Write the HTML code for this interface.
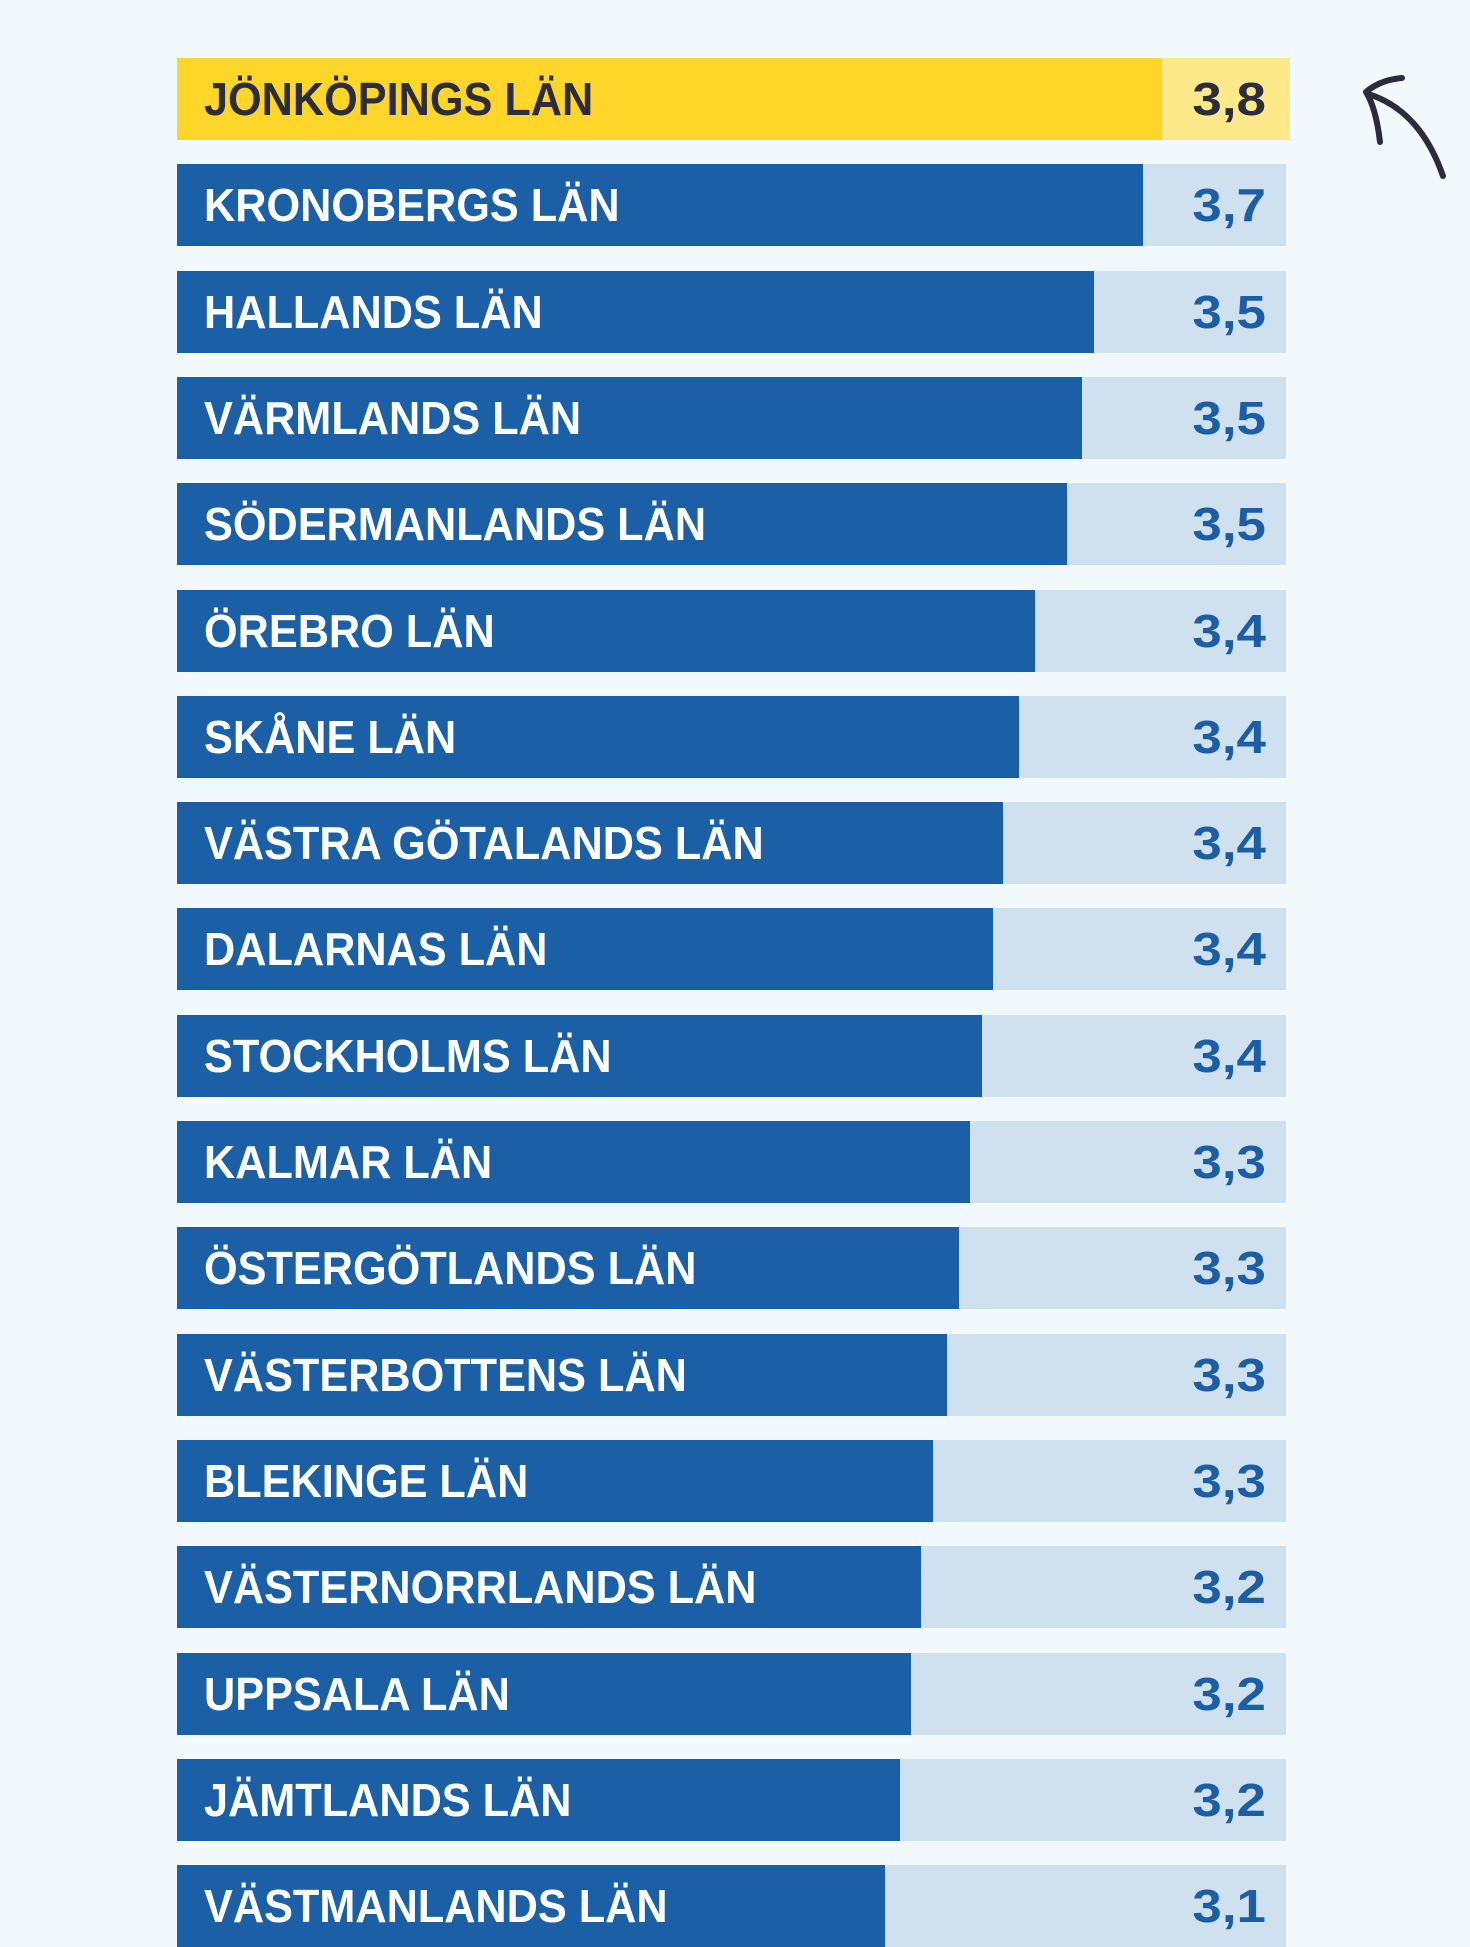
<!DOCTYPE html>
<html><head><meta charset="utf-8"><style>
html,body{margin:0;padding:0}
body{width:1470px;height:1902px;background:#f1f9fd;position:relative;overflow:hidden;font-family:"Liberation Sans Narrow","Liberation Sans",sans-serif;}
.r{position:absolute;left:177px;width:1109px;height:82px;background:#cfe0ee}
.b{position:absolute;left:0;top:0;height:82px;background:#1b60a6}
.l{position:absolute;left:27px;top:0;line-height:82px;font-weight:bold;font-size:46px;color:#fff;white-space:nowrap;transform:scaleX(.94);transform-origin:left center}
.v{position:absolute;right:20px;top:0;line-height:82px;font-weight:bold;font-size:46px;color:#1b5ea5;transform:scaleX(1.15);transform-origin:right center}
</style></head><body>
<div class="r" style="top:58px;background:#fde98a;width:1113px"><div class="b" style="width:985px;background:#fed62a"></div><div class="l" style="color:#2b2d3c">JÖNKÖPINGS LÄN</div><div class="v" style="color:#2b2d3c;right:24px">3,8</div></div>
<div class="r" style="top:164px"><div class="b" style="width:966px"></div><div class="l">KRONOBERGS LÄN</div><div class="v">3,7</div></div>
<div class="r" style="top:271px"><div class="b" style="width:917px"></div><div class="l">HALLANDS LÄN</div><div class="v">3,5</div></div>
<div class="r" style="top:377px"><div class="b" style="width:905px"></div><div class="l">VÄRMLANDS LÄN</div><div class="v">3,5</div></div>
<div class="r" style="top:483px"><div class="b" style="width:890px"></div><div class="l">SÖDERMANLANDS LÄN</div><div class="v">3,5</div></div>
<div class="r" style="top:590px"><div class="b" style="width:858px"></div><div class="l">ÖREBRO LÄN</div><div class="v">3,4</div></div>
<div class="r" style="top:696px"><div class="b" style="width:842px"></div><div class="l">SKÅNE LÄN</div><div class="v">3,4</div></div>
<div class="r" style="top:802px"><div class="b" style="width:826px"></div><div class="l">VÄSTRA GÖTALANDS LÄN</div><div class="v">3,4</div></div>
<div class="r" style="top:908px"><div class="b" style="width:816px"></div><div class="l">DALARNAS LÄN</div><div class="v">3,4</div></div>
<div class="r" style="top:1015px"><div class="b" style="width:805px"></div><div class="l">STOCKHOLMS LÄN</div><div class="v">3,4</div></div>
<div class="r" style="top:1121px"><div class="b" style="width:793px"></div><div class="l">KALMAR LÄN</div><div class="v">3,3</div></div>
<div class="r" style="top:1227px"><div class="b" style="width:782px"></div><div class="l">ÖSTERGÖTLANDS LÄN</div><div class="v">3,3</div></div>
<div class="r" style="top:1334px"><div class="b" style="width:770px"></div><div class="l">VÄSTERBOTTENS LÄN</div><div class="v">3,3</div></div>
<div class="r" style="top:1440px"><div class="b" style="width:756px"></div><div class="l">BLEKINGE LÄN</div><div class="v">3,3</div></div>
<div class="r" style="top:1546px"><div class="b" style="width:744px"></div><div class="l">VÄSTERNORRLANDS LÄN</div><div class="v">3,2</div></div>
<div class="r" style="top:1653px"><div class="b" style="width:734px"></div><div class="l">UPPSALA LÄN</div><div class="v">3,2</div></div>
<div class="r" style="top:1759px"><div class="b" style="width:723px"></div><div class="l">JÄMTLANDS LÄN</div><div class="v">3,2</div></div>
<div class="r" style="top:1865px"><div class="b" style="width:708px"></div><div class="l">VÄSTMANLANDS LÄN</div><div class="v">3,1</div></div>
<svg style="position:absolute;left:1340px;top:60px" width="120" height="130" viewBox="0 0 120 130">
<path d="M103 116 Q80 50 28 34" fill="none" stroke="#2b2d3c" stroke-width="6" stroke-linecap="round"/>
<path d="M62 18 Q40 20 26 32 Q36 48 40 82" fill="none" stroke="#2b2d3c" stroke-width="6" stroke-linecap="round" stroke-linejoin="round"/>
</svg>
</body></html>
